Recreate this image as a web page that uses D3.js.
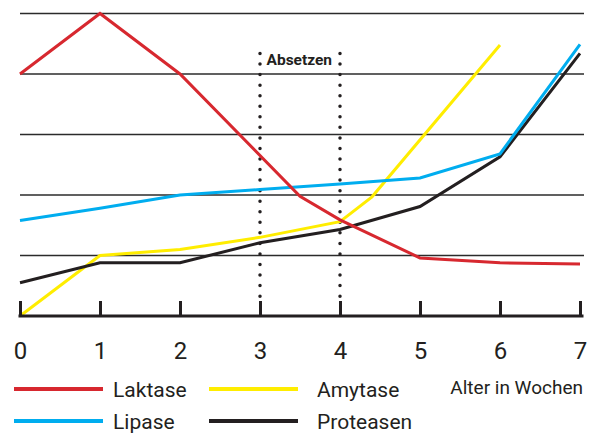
<!DOCTYPE html>
<html>
<head>
<meta charset="utf-8">
<script src="https://cdn.jsdelivr.net/npm/d3@7"></script>
<style>
  html, body { margin: 0; padding: 0; background: #fff; }
  svg text { font-family: Roboto, "Noto Sans", sans-serif; fill: #231f20; }
</style>
</head>
<body>
<svg id="chart" width="597" height="433"></svg>
<script>
// ---- data ----
const weekTicks = [0, 1, 2, 3, 4, 5, 6, 7];
const gridLevels = [1, 2, 3, 4, 5];
const seriesNames = ["Laktase", "Amytase", "Lipase", "Proteasen"];

const laktaseWeeks = [0, 1, 2, 3.5, 4, 5, 6, 7];
const laktaseValues = [4, 5, 4, 1.98, 1.59, 0.96, 0.88, 0.86];

const amytaseWeeks = [0, 1, 2, 3, 4, 4.4, 6];
const amytaseValues = [0, 1, 1.1, 1.3, 1.56, 1.97, 4.48];

const lipaseWeeks = [0, 1, 2, 3, 4, 5, 6, 7];
const lipaseValues = [1.58, 1.78, 2.0, 2.09, 2.18, 2.28, 2.68, 4.49];

const proteasenWeeks = [0, 1, 2, 3, 4, 5, 6, 7];
const proteasenValues = [0.55, 0.88, 0.88, 1.21, 1.43, 1.81, 2.63, 4.34];

const weaningWeeks = [3, 4];
const weaningLabel = "Absetzen";
const axisTitle = "Alter in Wochen";

// ---- styles ----
const colors = {
  Laktase: "#d7282f",
  Amytase: "#ffed00",
  Lipase: "#00adef",
  Proteasen: "#231f20"
};

const svg = d3.select("#chart");
const x = d3.scaleLinear().domain([0, 7]).range([20, 580]);
const y = d3.scaleLinear().domain([0, 5]).range([316, 13.5]);

// grid lines
svg.append("g").selectAll("line").data(gridLevels).join("line")
  .attr("x1", 20).attr("x2", 584)
  .attr("y1", d => y(d)).attr("y2", d => y(d))
  .attr("stroke", "#2b2b2b").attr("stroke-width", 1.5);

// weaning dotted lines
svg.append("g").selectAll("line").data(weaningWeeks).join("line")
  .attr("x1", d => x(d)).attr("x2", d => x(d))
  .attr("y1", 53.5).attr("y2", 300)
  .attr("stroke", "#231f20").attr("stroke-width", 3.5)
  .attr("stroke-linecap", "round")
  .attr("stroke-dasharray", "0 10.55");

svg.append("text")
  .attr("x", x(weaningWeeks[0]) + 6.5).attr("y", 65)
  .attr("font-size", 15.5).attr("font-weight", "bold")
  .text(weaningLabel);

// series lines
const line = d3.line().x(d => x(d[0])).y(d => y(d[1]));
const seriesData = {
  Amytase: d3.zip(amytaseWeeks, amytaseValues),
  Proteasen: d3.zip(proteasenWeeks, proteasenValues),
  Lipase: d3.zip(lipaseWeeks, lipaseValues),
  Laktase: d3.zip(laktaseWeeks, laktaseValues)
};
["Amytase", "Proteasen", "Lipase", "Laktase"].forEach(name => {
  svg.append("path")
    .datum(seriesData[name])
    .attr("d", line)
    .attr("fill", "none")
    .attr("stroke", colors[name])
    .attr("stroke-width", 3)
    .attr("stroke-linejoin", "miter");
});

// x axis
const axis = d3.axisBottom(x).tickValues(weekTicks).tickSize(0).tickPadding(0)
  .tickFormat(d3.format("d"));
const ax = svg.append("g").attr("transform", "translate(0,316)").call(axis);
ax.select(".domain").remove();
ax.selectAll(".tick text")
  .attr("y", 43).attr("dy", 0)
  .attr("font-size", 24)
  .attr("font-family", "Roboto, 'Noto Sans', sans-serif")
  .attr("fill", "#231f20");
ax.selectAll(".tick").append("line")
  .attr("y1", -15).attr("y2", 0)
  .attr("stroke", "#231f20").attr("stroke-width", 3);
svg.append("line")
  .attr("x1", 18.5).attr("x2", 583.5).attr("y1", 316).attr("y2", 316)
  .attr("stroke", "#231f20").attr("stroke-width", 3);

svg.append("text")
  .attr("x", 583).attr("y", 394)
  .attr("text-anchor", "end")
  .attr("font-size", 19)
  .text(axisTitle);

// legend
const legendPos = {
  Laktase: [14, 389],
  Amytase: [209, 389],
  Lipase: [14, 421],
  Proteasen: [209, 421]
};
const legendTextX = { Laktase: 113, Lipase: 113, Amytase: 317, Proteasen: 317 };
seriesNames.forEach(name => {
  const [lx, ly] = legendPos[name];
  svg.append("line")
    .attr("x1", lx).attr("x2", lx + 89)
    .attr("y1", ly).attr("y2", ly)
    .attr("stroke", colors[name]).attr("stroke-width", 4);
  svg.append("text")
    .attr("x", legendTextX[name]).attr("y", ly + 8)
    .attr("font-size", 21)
    .text(name);
});
</script>
</body>
</html>
